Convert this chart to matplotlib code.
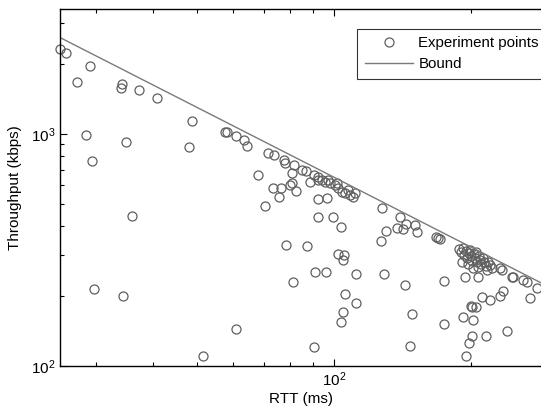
import matplotlib.pyplot as plt

plt.rcParams['font.family'] = ['Liberation Sans', 'DejaVu Sans']
plt.rcParams['mathtext.default'] = 'regular'

# measured points (RTT in ms, throughput in kbps)
rtt = [25.0, 25.8, 29.1, 27.2, 34.2, 34.0, 37.3, 40.8, 48.7, 57.6,
       58.2, 60.9, 63.4, 64.4, 28.5, 34.9, 48.0, 29.4, 71.6, 73.8,
       68.1, 73.5, 76.5, 75.7, 70.5, 36.0, 29.7, 34.4, 60.9, 51.5,
       77.7, 78.0, 81.7, 85.1, 86.8, 80.9, 80.9, 80.0, 82.5, 88.5,
       90.4, 92.2, 94.1, 95.5, 97.0, 98.0, 92.2, 100.5, 102.0, 104.1,
       105.7, 107.4, 108.4, 110.1, 111.2, 101.5, 92.2, 96.5, 92.2, 78.4,
       87.2, 90.8, 81.3, 90.4, 99.5, 103.6, 102.0, 105.2, 104.7, 96.0,
       111.8, 105.7, 111.8, 104.7, 103.6, 127.5, 139.6, 143.9, 137.6, 141.7,
       150.7, 152.2, 130.1, 126.8, 167.5, 169.2, 171.0, 128.8, 143.2, 148.4,
       146.9, 174.5, 174.5, 194.1, 207.3, 202.1, 216.9, 231.6, 233.9, 246.2,
       247.5, 260.2, 265.5, 279.3, 269.7, 235.1, 231.6, 211.4, 220.2, 200.1,
       201.1, 205.2, 192.1, 202.1, 215.8, 239.9, 201.1, 198.1, 195.1,
       188.3, 190.1, 192.1, 193.1, 195.1, 196.1, 198.1, 199.1, 200.1, 201.1,
       203.1, 204.2, 205.2, 206.3, 208.4, 209.4, 210.4, 212.6, 213.7, 215.8,
       218.0, 220.2, 222.5, 191.1, 197.1, 207.3]
throughput = [2324, 2234, 1963, 1675, 1643, 1578, 1548, 1422, 1138, 1020,
              1020, 980, 945, 890, 985, 925, 880, 765, 828, 812,
              666, 585, 585, 535, 488, 442, 215, 200, 144, 110,
              773, 750, 735, 700, 693, 679, 615, 603, 568, 621,
              666, 634, 634, 621, 634, 615, 653, 603, 585, 562,
              557, 574, 546, 535, 557, 615, 525, 530, 439, 332,
              329, 254, 230, 121, 439, 396, 304, 301, 287, 254,
              250, 204, 187, 171, 155, 480, 439, 409, 393, 390,
              405, 376, 382, 345, 360, 354, 351, 250, 223, 168,
              122, 231, 151, 242, 242, 265, 259, 265, 259, 242,
              242, 235, 230, 217, 197, 211, 200, 198, 193, 181,
              179, 179, 163, 158, 135, 142, 134, 126, 110,
              319, 310, 323, 301, 313, 292, 307, 316, 298, 284,
              304, 292, 310, 281, 298, 286, 275, 292, 281, 270,
              281, 273, 264, 281, 275, 267]

# upper bound line
bound_rtt = [25, 285]
bound_kbps = [2600, 228]

fig = plt.figure(figsize=(5.41, 4.12), dpi=100)
ax = fig.add_axes([0.111, 0.112, 0.889, 0.866])

ax.plot(rtt, throughput, 'o', mfc='none', mec='#5f5f5f', ms=6.5, mew=0.9,
        clip_on=False, label='Experiment points')
ax.plot(bound_rtt, bound_kbps, '-', color='#7a7a7a', lw=1.0, label='Bound')

ax.set_xscale('log')
ax.set_yscale('log')
ax.set_xlim(25, 285)
ax.set_ylim(100, 3450)

ax.tick_params(which='both', direction='in', top=True, right=False,
               labelsize=11, width=0.8)
ax.tick_params(which='major', length=5)
ax.tick_params(which='minor', length=3)
ax.spines['right'].set_visible(False)
for s in ['left', 'bottom', 'top']:
    ax.spines[s].set_linewidth(1.0)

ax.set_xlabel('RTT (ms)', fontsize=11, labelpad=2)
ax.set_ylabel('Throughput (kbps)', fontsize=11, labelpad=6)

leg = ax.legend(loc='upper left', bbox_to_anchor=(357 / 541, 1 - 29 / 412),
                bbox_transform=fig.transFigure, fontsize=10.8, frameon=True,
                fancybox=False, edgecolor='black', handlelength=3.2,
                handletextpad=0.4, borderpad=0.5, labelspacing=0.45,
                borderaxespad=0)
leg.get_frame().set_linewidth(0.8)

fig.savefig('out.png', dpi=100)
